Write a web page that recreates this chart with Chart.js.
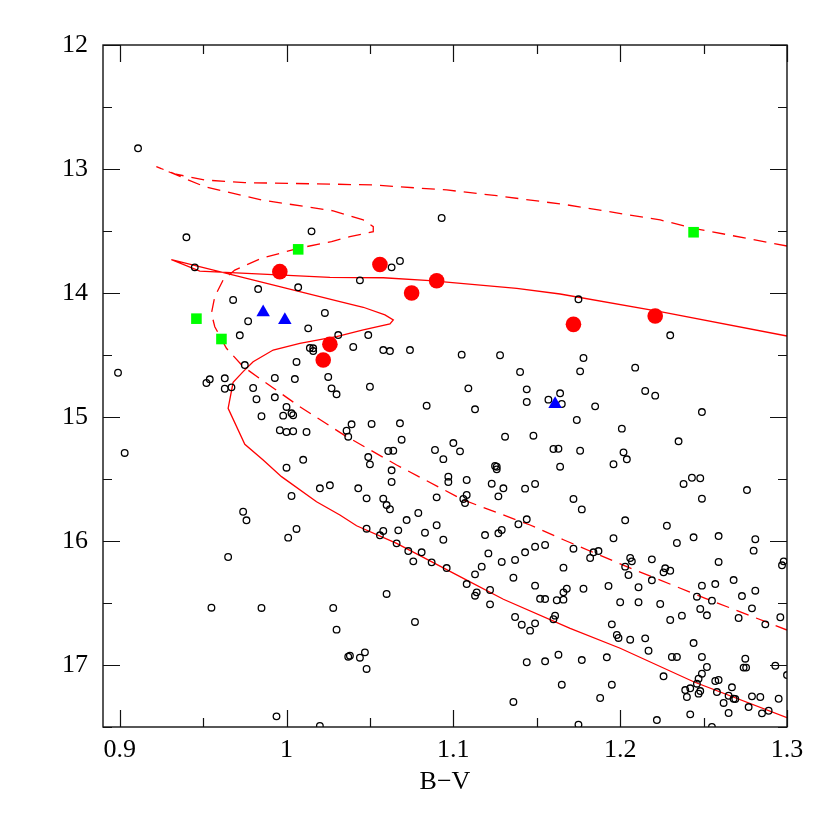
<!DOCTYPE html>
<html>
<head>
<meta charset="utf-8">
<script src="https://cdn.jsdelivr.net/npm/chart.js@4"></script>
<style>
html,body{margin:0;padding:0;background:#fff;}
#wrap{width:830px;height:830px;}
</style>
</head>
<body>
<div id="wrap"><canvas id="c" width="830" height="830"></canvas></div>
<script>
// ---- data ----
const xTicks = [0.9, 1.0, 1.1, 1.2, 1.3];
const yTicks = [12, 13, 14, 15, 16, 17];

// field stars (open circles): B-V and V
const fieldBV = [0.911,0.940,1.015,0.945,1.093,1.068,1.063,0.983,1.007,0.968,1.023,0.977,1.013,0.972,1.031,1.014,1.016,1.016,1.006,0.975,0.899,1.025,0.993,1.005,0.963,0.954,0.952,0.963,0.967,0.980,1.027,1.030,0.982,0.993,1.000,1.003,1.004,0.998,0.985,0.996,1.000,1.004,1.012,0.903,1.010,1.000,1.020,1.026,1.003,0.974,0.976,1.006,1.001,0.965,0.955,0.985,1.028,1.030,0.994,1.020,1.044,1.049,1.040,1.058,1.062,1.074,1.105,1.128,1.140,1.050,1.109,1.144,1.084,1.113,1.144,1.157,1.164,1.165,1.039,1.036,1.037,1.051,1.068,1.069,1.061,1.064,1.089,1.100,1.104,1.131,1.148,1.160,1.163,1.049,1.094,1.175,1.230,1.178,1.176,1.209,1.215,1.221,1.185,1.249,1.174,1.201,1.235,1.176,1.202,1.204,1.050,1.063,1.063,1.043,1.048,1.058,1.060,1.062,1.079,1.072,1.097,1.097,1.108,1.090,1.108,1.106,1.107,1.125,1.126,1.126,1.123,1.130,1.127,1.143,1.149,1.164,1.048,1.058,1.056,1.067,1.083,1.090,1.094,1.066,1.073,1.081,1.076,1.087,1.096,1.119,1.127,1.129,1.139,1.144,1.121,1.117,1.113,1.129,1.137,1.143,1.149,1.155,1.136,1.108,1.114,1.113,1.122,1.149,1.060,1.166,1.168,1.166,1.152,1.155,1.122,1.077,1.037,1.038,1.044,1.047,1.048,1.137,1.141,1.146,1.149,1.162,1.166,1.160,1.161,1.163,1.155,1.144,1.165,1.136,1.196,1.238,1.243,1.248,1.249,1.276,1.172,1.177,1.203,1.228,1.196,1.172,1.184,1.187,1.182,1.234,1.244,1.259,1.281,1.280,1.298,1.297,1.206,1.207,1.203,1.205,1.219,1.227,1.226,1.230,1.259,1.219,1.211,1.193,1.178,1.249,1.257,1.268,1.281,1.273,1.246,1.255,1.200,1.211,1.224,1.248,1.252,1.279,1.271,1.287,1.296,1.237,1.230,1.195,1.198,1.199,1.206,1.215,1.217,1.244,1.231,1.234,1.249,1.252,1.249,1.247,1.246,1.242,1.239,1.240,1.248,1.247,1.275,1.274,1.2755,1.293,1.300,1.257,1.259,1.258,1.267,1.265,1.268,1.269,1.262,1.265,1.277,1.279,1.284,1.285,1.289,1.295,1.242,1.222,1.175,1.255,1.177,1.192,1.195,1.188,1.226];
const fieldV = [12.833,13.551,13.503,13.793,13.395,13.742,13.793,13.968,13.954,14.056,14.161,14.228,14.285,14.341,14.339,14.444,14.446,14.468,14.556,14.581,14.643,14.677,14.685,14.694,14.688,14.696,14.726,14.772,14.761,14.766,14.769,14.817,14.857,14.841,14.919,14.970,14.986,14.989,14.994,15.107,15.121,15.115,15.121,15.290,15.345,15.409,15.575,15.551,15.637,15.764,15.833,15.903,15.973,16.129,16.538,16.540,16.540,16.715,17.414,17.492,13.898,14.339,14.435,14.460,14.468,14.460,14.497,14.502,14.637,14.756,14.769,14.777,14.909,14.938,14.879,14.860,14.809,14.895,15.059,15.110,15.159,15.056,15.051,15.183,15.274,15.272,15.266,15.210,15.277,15.159,15.151,15.258,15.256,15.323,15.340,14.051,14.341,14.524,14.632,14.602,14.790,14.828,14.914,14.960,15.024,15.094,15.196,15.272,15.285,15.341,15.382,15.430,15.524,15.575,15.656,15.659,15.710,15.744,15.774,15.831,15.481,15.524,15.508,15.648,15.629,15.661,15.694,15.395,15.401,15.422,15.538,15.575,15.640,15.578,15.540,15.401,15.901,15.919,15.954,15.914,15.933,15.873,15.990,16.019,16.081,16.091,16.164,16.172,16.218,15.952,15.938,15.911,15.865,15.825,16.100,16.207,16.269,16.169,16.153,16.091,16.046,16.032,16.296,16.347,16.414,16.441,16.395,16.360,16.427,16.215,16.385,16.414,16.466,16.468,16.511,16.653,16.933,16.925,16.941,16.898,17.032,16.613,16.675,16.723,16.664,16.478,16.473,16.631,16.602,16.917,16.970,16.978,17.159,17.298,15.381,15.540,15.490,15.494,15.659,15.589,15.661,15.745,15.833,15.877,15.978,16.062,16.091,16.081,16.137,16.016,15.970,15.960,15.986,16.078,16.164,16.196,16.137,16.164,16.207,16.274,16.148,16.220,16.253,16.240,16.169,16.317,16.373,16.363,16.385,16.360,16.347,16.315,16.401,16.444,16.449,16.481,16.494,16.494,16.508,16.548,16.599,16.543,16.621,16.672,16.615,16.602,16.637,16.672,16.758,16.782,16.796,16.785,16.885,16.823,16.935,16.935,16.935,17.016,17.070,17.110,17.151,17.188,17.202,17.258,17.210,17.231,16.949,17.021,17.021,17.006,17.081,17.129,17.121,17.218,17.180,17.248,17.272,17.274,17.306,17.387,17.339,17.253,17.258,17.390,17.369,17.272,17.398,17.444,17.481,17.500,16.960,16.938,17.159,17.266,17.091];

// red filled circles
const redBV = [0.996, 1.056, 1.075, 1.090, 1.172, 1.221, 1.026, 1.022];
const redV  = [13.828, 13.770, 14.000, 13.901, 14.253, 14.185, 14.414, 14.540];

// green squares
const greenBV = [1.007, 1.244, 0.946, 0.961];
const greenV  = [13.648, 13.510, 14.207, 14.371];

// blue triangles
const blueBV = [0.986, 0.999, 1.161];
const blueV  = [14.156, 14.218, 14.895];

// solid isochrone
const solidBV = [1.300,1.224,1.164,1.138,1.086,1.058,1.026,0.948,0.931,1.032,1.046,1.059,1.064,1.062,1.046,1.030,1.024,1.008,0.992,0.980,0.974,0.968,0.965,0.975,0.986,0.997,1.018,1.032,1.042,1.066,1.106,1.130,1.170,1.200,1.244,1.300];
const solidV  = [14.347,14.151,14.008,13.962,13.900,13.877,13.874,13.823,13.731,14.070,14.115,14.177,14.218,14.250,14.298,14.352,14.366,14.406,14.460,14.554,14.634,14.720,14.930,15.220,15.347,15.481,15.683,15.790,15.877,16.019,16.301,16.470,16.704,16.865,17.135,17.425];

// dashed isochrone
const dashBV = [1.300,1.244,1.224,1.168,1.126,1.096,1.052,1.027,0.975,0.951,0.933,0.922,0.951,0.985,1.028,1.046,1.052,1.052,1.038,1.027,1.007,0.985,0.969,0.962,0.957,0.955,0.957,0.964,0.974,0.988,1.008,1.035,1.066,1.106,1.146,1.166,1.204,1.251,1.300];
const dashV  = [13.621,13.478,13.411,13.289,13.215,13.169,13.129,13.122,13.110,13.089,13.040,12.981,13.143,13.250,13.337,13.411,13.465,13.505,13.546,13.585,13.640,13.720,13.815,13.895,14.030,14.164,14.272,14.446,14.594,14.728,14.917,15.150,15.387,15.669,15.871,15.990,16.207,16.462,16.718];

// ---- build ----
const pts = (xs, ys) => xs.map((x, i) => ({x: x, y: ys[i]}));

const frameTicks = {
  id: 'frameTicks',
  afterDatasetsDraw(chart) {
    const {ctx, chartArea: a} = chart;
    const xs = chart.scales.x, ys = chart.scales.y;
    ctx.save();
    ctx.strokeStyle = '#111';
    ctx.lineWidth = 1.4;
    ctx.strokeRect(a.left, a.top, a.right - a.left, a.bottom - a.top);
    ctx.lineWidth = 1.2;
    ctx.beginPath();
    for (let v = 0.9; v <= 1.3001; v += 0.05) {
      const major = Math.abs(v * 10 - Math.round(v * 10)) < 1e-6;
      const L = major ? 17 : 9;
      const px = Math.round(xs.getPixelForValue(v)) + 0.5;
      ctx.moveTo(px, a.bottom); ctx.lineTo(px, a.bottom - L);
      ctx.moveTo(px, a.top); ctx.lineTo(px, a.top + L);
    }
    for (let v = 12; v <= 17.5001; v += 0.5) {
      const major = Math.abs(v - Math.round(v)) < 1e-6;
      const L = major ? 17 : 9;
      const py = Math.round(ys.getPixelForValue(v)) + 0.5;
      ctx.moveTo(a.left, py); ctx.lineTo(a.left + L, py);
      ctx.moveTo(a.right, py); ctx.lineTo(a.right - L, py);
    }
    ctx.stroke();
    ctx.restore();
  }
};

const serif = "'Liberation Serif', 'DejaVu Serif', serif";

new Chart(document.getElementById('c'), {
  type: 'scatter',
  data: {
    datasets: [
      {label: 'solid', type: 'line', data: pts(solidBV, solidV), borderColor: '#ff0000', borderWidth: 1.3, pointRadius: 0, fill: false, tension: 0, order: 5},
      {label: 'dashed', type: 'line', data: pts(dashBV, dashV), borderColor: '#ff0000', borderWidth: 1.3, borderDash: [13, 8], pointRadius: 0, fill: false, tension: 0, order: 5},
      {label: 'field', data: pts(fieldBV, fieldV), pointStyle: 'circle', pointRadius: 3.3, borderColor: '#000', borderWidth: 1.3, backgroundColor: 'rgba(0,0,0,0)', order: 4},
      {label: 'red', data: pts(redBV, redV), pointStyle: 'circle', pointRadius: 7.8, borderWidth: 0, backgroundColor: '#ff0000', borderColor: '#ff0000', order: 1},
      {label: 'green', data: pts(greenBV, greenV), pointStyle: 'rect', pointRadius: 7.5, borderWidth: 0, backgroundColor: '#00ff00', borderColor: '#00ff00', order: 2},
      {label: 'blue', data: pts(blueBV, blueV), pointStyle: 'triangle', pointRadius: 7.8, borderWidth: 0, backgroundColor: '#0000ff', borderColor: '#0000ff', order: 3}
    ]
  },
  options: {
    responsive: false,
    animation: false,
    events: [],
    layout: {padding: {top: 45, right: 43, left: 0, bottom: 0}},
    plugins: {legend: {display: false}, tooltip: {enabled: false}},
    scales: {
      x: {
        type: 'linear', min: 0.89, max: 1.3,
        grid: {display: false, drawTicks: false},
        border: {display: false},
        afterBuildTicks: s => { s.ticks = xTicks.map(v => ({value: v})); },
        afterFit: s => { s.height = 103; },
        ticks: {
          color: '#000', padding: 8, maxRotation: 0, autoSkip: false,
          font: {family: serif, size: 26},
          callback: v => (Math.abs(v - 1) < 1e-9 ? '1' : v.toFixed(1))
        },
        title: {display: true, text: 'B\u2212V', color: '#000', font: {family: serif, size: 26}, padding: {top: 0, bottom: 32}}
      },
      y: {
        type: 'linear', min: 12, max: 17.5, reverse: true,
        grid: {display: false, drawTicks: false},
        border: {display: false},
        afterBuildTicks: s => { s.ticks = yTicks.map(v => ({value: v})); },
        afterFit: s => { s.width = 103; },
        ticks: {
          color: '#000', padding: 15, autoSkip: false,
          font: {family: serif, size: 26},
          callback: v => String(v)
        }
      }
    }
  },
  plugins: [frameTicks]
});
</script>
</body>
</html>
